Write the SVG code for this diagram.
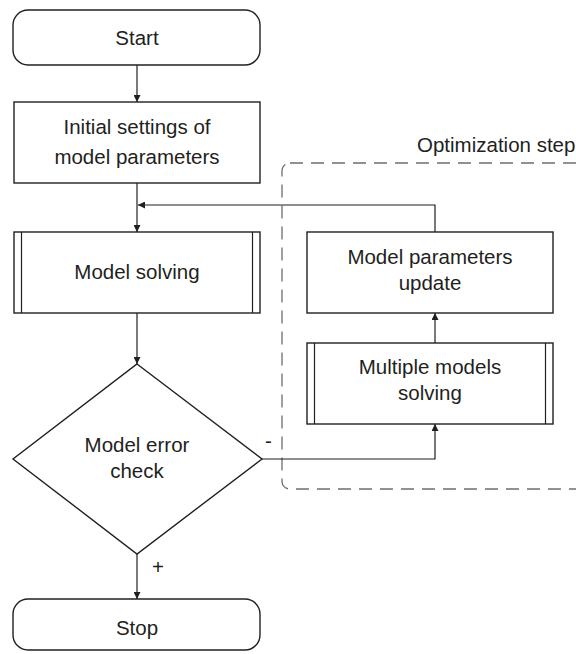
<svg xmlns="http://www.w3.org/2000/svg" width="576" height="654" viewBox="0 0 576 654">
<style>
.box{fill:#fff;stroke:#231f20;stroke-width:1.4}
.ln{fill:none;stroke:#231f20;stroke-width:1.2}
.t{font-family:"Liberation Sans",Arial,sans-serif;font-size:20.5px;fill:#231f20;text-anchor:middle}
.lbl{font-family:"Liberation Sans",Arial,sans-serif;font-size:20.5px;fill:#231f20}
.dash{fill:none;stroke:#6d6e71;stroke-width:1.3;stroke-dasharray:13 8}
</style>
<defs>
<marker id="ah" viewBox="0 0 10 10" refX="10" refY="5" markerWidth="7" markerHeight="7" markerUnits="userSpaceOnUse" orient="auto">
<path d="M0,0 L10,5 L0,10 z" fill="#231f20"/>
</marker>
</defs>
<g id="optimization-step">
<rect class="dash" x="282" y="163" width="320" height="326" rx="8"/>
<text class="lbl" x="417" y="152">Optimization step</text>
</g>
<g id="connectors">
<line class="ln" x1="137" y1="65" x2="137" y2="102" marker-end="url(#ah)"/>
<line class="ln" x1="137" y1="183" x2="137" y2="232" marker-end="url(#ah)"/>
<polyline class="ln" points="435,232 435,205 138,205" marker-end="url(#ah)"/>
<line class="ln" x1="137" y1="313" x2="137" y2="364" marker-end="url(#ah)"/>
<polyline class="ln" points="262,459 435,459 435,424" marker-end="url(#ah)"/>
<line class="ln" x1="435" y1="343" x2="435" y2="313" marker-end="url(#ah)"/>
<line class="ln" x1="137" y1="554" x2="137" y2="599" marker-end="url(#ah)"/>
<text class="lbl" x="265" y="448">-</text>
<text class="lbl" x="152" y="574">+</text>
</g>
<g id="start">
<rect class="box" x="13" y="10" width="247" height="55" rx="15"/>
<text class="t" x="137" y="45">Start</text>
</g>
<g id="initial-settings">
<rect class="box" x="14" y="102" width="246" height="81"/>
<text class="t" x="137" y="134">Initial settings of</text>
<text class="t" x="137" y="164">model parameters</text>
</g>
<g id="model-solving">
<rect class="box" x="14" y="232" width="246" height="81"/>
<line class="ln" x1="21.5" y1="232" x2="21.5" y2="313"/>
<line class="ln" x1="252.5" y1="232" x2="252.5" y2="313"/>
<text class="t" x="137" y="279">Model solving</text>
</g>
<g id="model-error-check">
<polygon class="box" points="137,364 262,459 137,554 13,459"/>
<text class="t" x="137" y="452">Model error</text>
<text class="t" x="137" y="478">check</text>
</g>
<g id="parameters-update">
<rect class="box" x="307" y="232" width="246" height="81"/>
<text class="t" x="430" y="264">Model parameters</text>
<text class="t" x="430" y="290">update</text>
</g>
<g id="multiple-models">
<rect class="box" x="307" y="343" width="246" height="81"/>
<line class="ln" x1="314.5" y1="343" x2="314.5" y2="424"/>
<line class="ln" x1="545.5" y1="343" x2="545.5" y2="424"/>
<text class="t" x="430" y="374">Multiple models</text>
<text class="t" x="430" y="400">solving</text>
</g>
<g id="stop">
<rect class="box" x="13" y="599" width="247" height="51" rx="15"/>
<text class="t" x="137" y="635">Stop</text>
</g>
</svg>
